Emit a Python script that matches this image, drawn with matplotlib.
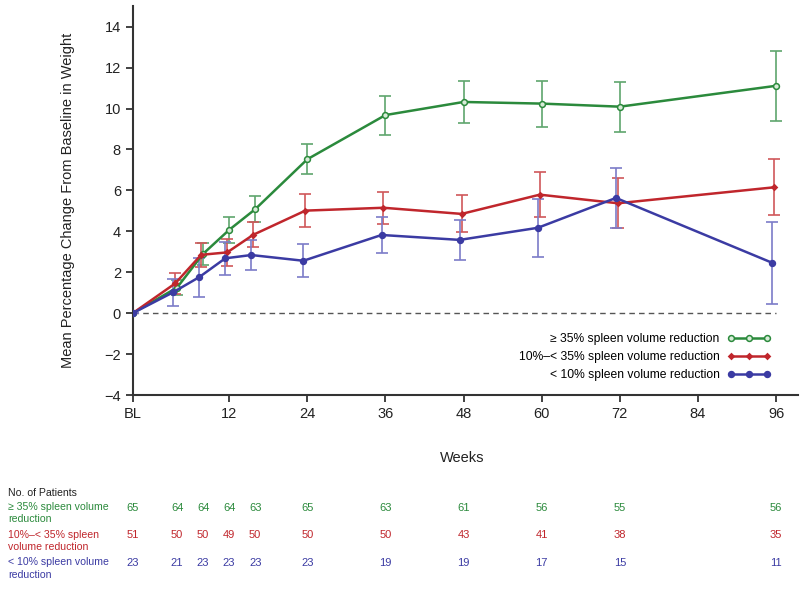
import matplotlib
matplotlib.use("Agg")
import matplotlib.pyplot as plt
import matplotlib.transforms as mtransforms

plt.rcParams['font.family'] = ['Liberation Sans', 'DejaVu Sans']

# ---- data ----
weeks = [-2.8, 4, 8, 12, 16, 24, 36, 48, 60, 72, 96]
xtick_pos = [-2.8, 12, 24, 36, 48, 60, 72, 84, 96]
xtick_labels = ["BL", "12", "24", "36", "48", "60", "72", "84", "96"]

series_names = ["≥ 35% spleen volume reduction",
                "10%–< 35% spleen volume reduction",
                "< 10% spleen volume reduction"]

green_mean = [0, 1.25, 2.9, 4.07, 5.08, 7.52, 9.68, 10.32, 10.24, 10.09, 11.11]
green_err = [0, 0.35, 0.55, 0.63, 0.65, 0.74, 0.95, 1.04, 1.12, 1.22, 1.70]
red_mean = [0, 1.45, 2.85, 2.97, 3.83, 5.01, 5.15, 4.85, 5.79, 5.37, 6.15]
red_err = [0, 0.52, 0.60, 0.66, 0.62, 0.81, 0.77, 0.90, 1.09, 1.23, 1.37]
blue_mean = [0, 1.02, 1.76, 2.68, 2.84, 2.56, 3.82, 3.58, 4.17, 5.63, 2.46]
blue_err = [0, 0.65, 0.95, 0.80, 0.73, 0.80, 0.90, 0.99, 1.42, 1.48, 2.00]

table_title = "No. of Patients"
row_labels = ["≥ 35% spleen volume\nreduction",
              "10%–< 35% spleen\nvolume reduction",
              "< 10% spleen volume\nreduction"]
green_n = [65, 64, 64, 64, 63, 65, 63, 61, 56, 55, 56]
red_n = [51, 50, 50, 49, 50, 50, 50, 43, 41, 38, 35]
blue_n = [23, 21, 23, 23, 23, 23, 19, 19, 17, 15, 11]

# ---- styles ----
green_c, green_ec = '#2b8a3c', '#5fa56d'
red_c, red_ec = '#c0262c', '#d0575a'
blue_c, blue_ec = '#3b3ba3', '#7c7cc8'
offsets = [0.0, -0.3, -0.6]

fig = plt.figure(figsize=(8, 5.9), dpi=100)
ax = fig.add_axes([0.166, 0.3305, 0.831, 0.659])

handles = []
for (mean, err, c, ec, mk, ms, mfc, off, name) in [
        (green_mean, green_err, green_c, green_ec, 'o', 4.2, '#d9ecd9', offsets[0], series_names[0]),
        (red_mean, red_err, red_c, red_ec, 'D', 2.8, red_c, offsets[1], series_names[1]),
        (blue_mean, blue_err, blue_c, blue_ec, 'o', 4.2, blue_c, offsets[2], series_names[2])]:
    xs = [w + (off if i > 0 else 0) for i, w in enumerate(weeks)]
    ax.errorbar(xs, mean, yerr=err, fmt='none', ecolor=ec, elinewidth=1.2,
                capsize=4, capthick=1.2, zorder=2)
    ln, = ax.plot(xs, mean, color=c, lw=1.8, marker=mk, ms=ms, mfc=mfc,
                  mec=c, mew=1.1, zorder=3, label=name)
    handles.append(ln)

ax.plot([weeks[0], 96], [0, 0], ls=(0, (4, 3)), color='#555555', lw=1.0, zorder=1)

ax.set_xlim(-2.8, 99.3)
ax.set_ylim(-4, 15)
ax.set_xticks(xtick_pos)
ax.set_xticklabels(xtick_labels)
ax.set_yticks(range(-4, 15, 2))
ax.set_yticklabels([str(v) if v >= 0 else '−' + str(-v) for v in range(-4, 15, 2)])
for s in ['top', 'right']:
    ax.spines[s].set_visible(False)
for s in ['left', 'bottom']:
    ax.spines[s].set_color('#333333')
    ax.spines[s].set_linewidth(1.5)
ax.tick_params(axis='both', colors='#333333', width=1.3, length=5,
               labelsize=10.5, labelcolor='#222222')
ax.set_xlabel("Weeks", fontsize=10.5, color='#222222')
ax.xaxis.set_label_coords(0.496, -0.144)
ax.set_ylabel("Mean Percentage Change From Baseline in Weight", fontsize=10.5,
              color='#222222')
ax.yaxis.set_label_coords(-0.087, 0.5)

leg = ax.legend(handles=handles, loc='upper right', bbox_to_anchor=(0.96, 0.159),
                numpoints=3, markerfirst=False, frameon=False, fontsize=8.7,
                handlelength=3.6, handletextpad=0.65, labelspacing=0.5,
                borderpad=0.0, borderaxespad=0.0)
for t in leg.get_texts():
    t.set_ha('right')
leg._legend_box.align = 'right'

# ---- number at risk table ----
trans = mtransforms.blended_transform_factory(ax.transData, fig.transFigure)
fs = 7.6
fs_n = 8.0
fig.text(8/800, 1 - 493/590, table_title, fontsize=fs, color='#222222', va='center')
row_y = [508, 535.5, 563.3]
for lab, ns, col, y in zip(row_labels, [green_n, red_n, blue_n],
                           [green_c, red_c, blue_c], row_y):
    fig.text(8/800, 1 - (y - 6)/590, lab, fontsize=fs, color=col, va='top',
             linespacing=1.28, transform=fig.transFigure)
    for w, n in zip(weeks, ns):
        ax.text(w, 1 - y/590, str(n), transform=trans, fontsize=fs_n,
                color=col, ha='center', va='center')

fig.savefig("out.png", dpi=100, facecolor='white')
